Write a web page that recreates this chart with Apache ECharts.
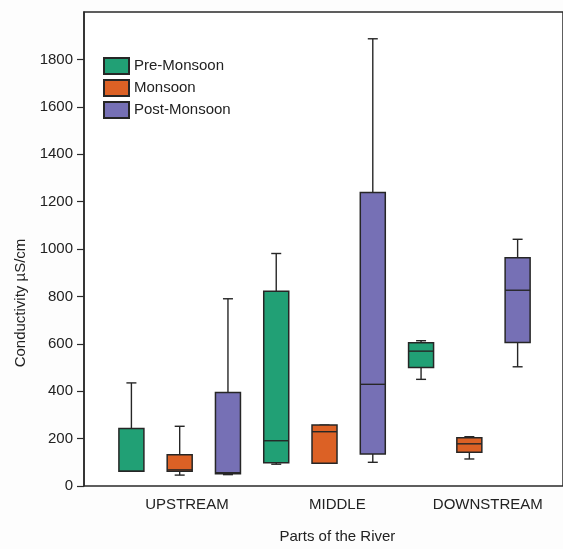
<!DOCTYPE html>
<html>
<head>
<meta charset="utf-8">
<title>Conductivity</title>
<script src="https://cdn.jsdelivr.net/npm/echarts@6/dist/echarts.min.js"></script>
<style>
  html, body { margin: 0; padding: 0; background: #fdfdfd; }
  #chart { width: 563px; height: 549px; }
</style>
</head>
<body>
<div id="chart"></div>
<script>
// parts of the river (x axis labels)
const parts = ['UPSTREAM', 'MIDDLE', 'DOWNSTREAM'];
const seasons = ['Pre-Monsoon', 'Monsoon', 'Post-Monsoon'];
const seasonColors = ['#21a075', '#dc6125', '#7670b5'];

// [min, Q1, median, Q3, max] for each part of the river
const preMonsoon = [
  [62, 62, 62, 243, 435],
  [92, 98, 191, 822, 981],
  [450, 500, 569, 604, 613]
];
const monsoon = [
  [46, 62, 68, 132, 252],
  [96, 96, 229, 257, 257],
  [114, 142, 178, 204, 208]
];
const postMonsoon = [
  [48, 52, 56, 395, 790],
  [100, 135, 429, 1238, 1887],
  [503, 606, 826, 963, 1041]
];
const yTicks = [0, 200, 400, 600, 800, 1000, 1200, 1400, 1600, 1800];

const allSeasons = [preMonsoon, monsoon, postMonsoon];

// boxes are evenly spaced, one slot per part/season pair
function slotData(seasonIdx) {
  return allSeasons[seasonIdx].map(function (v, partIdx) {
    return [partIdx * 3 + seasonIdx].concat(v);
  });
}

const lineColor = '#262626';

function renderBox(params, api) {
  var x = api.value(0);
  var pMin = api.coord([x, api.value(1)]);
  var pQ1 = api.coord([x, api.value(2)]);
  var pMed = api.coord([x, api.value(3)]);
  var pQ3 = api.coord([x, api.value(4)]);
  var pMax = api.coord([x, api.value(5)]);
  var cx = pMin[0];
  var half = 12.5;
  var cap = 5;
  var ls = { stroke: lineColor, lineWidth: 1.4 };
  return {
    type: 'group',
    children: [
      { type: 'line', shape: { x1: cx, y1: pQ3[1], x2: cx, y2: pMax[1] }, style: ls },
      { type: 'line', shape: { x1: cx - cap, y1: pMax[1], x2: cx + cap, y2: pMax[1] }, style: ls },
      { type: 'line', shape: { x1: cx, y1: pQ1[1], x2: cx, y2: pMin[1] }, style: ls },
      { type: 'line', shape: { x1: cx - cap, y1: pMin[1], x2: cx + cap, y2: pMin[1] }, style: ls },
      {
        type: 'rect',
        shape: { x: cx - half, y: pQ3[1], width: half * 2, height: pQ1[1] - pQ3[1] },
        style: { fill: api.visual('color'), stroke: lineColor, lineWidth: 1.5 }
      },
      { type: 'line', shape: { x1: cx - half, y1: pMed[1], x2: cx + half, y2: pMed[1] }, style: ls }
    ]
  };
}

var chart = echarts.init(document.getElementById('chart'));

var series = seasons.map(function (name, i) {
  return {
    name: name,
    type: 'custom',
    xAxisIndex: 0,
    yAxisIndex: 0,
    itemStyle: { color: seasonColors[i], borderColor: lineColor, borderWidth: 1.5 },
    encode: { x: 0, y: [1, 2, 3, 4, 5] },
    renderItem: renderBox,
    data: slotData(i)
  };
});

var option = {
  backgroundColor: '#fdfdfd',
  animation: false,
  textStyle: { fontFamily: 'Liberation Sans, Arial, sans-serif' },
  legend: {
    orient: 'vertical',
    left: 103,
    top: 57,
    padding: 0,
    itemWidth: 25,
    itemHeight: 16,
    itemGap: 4,
    icon: 'rect',
    data: seasons,
    textStyle: { fontSize: 15, lineHeight: 18, color: '#222' }
  },
  grid: [
    { left: 84, right: -2, top: 12, height: 474, show: true, backgroundColor: '#fff', borderColor: '#2a2a2a', borderWidth: 1.5 },
    { left: 111.75, right: 0, top: 12, height: 474 }
  ],
  xAxis: [
    { gridIndex: 0, type: 'value', min: -0.982, max: 8.94, show: false },
    {
      gridIndex: 1,
      type: 'category',
      data: parts,
      axisLine: { show: false },
      axisTick: { show: false },
      axisLabel: { fontSize: 15, color: '#222', margin: 11 },
      name: 'Parts of the River',
      nameLocation: 'middle',
      nameGap: 43,
      nameTextStyle: { fontSize: 15, color: '#222' }
    }
  ],
  yAxis: [
    {
      gridIndex: 0,
      type: 'value',
      min: 0,
      max: 2000,
      interval: 200,
      splitLine: { show: false },
      axisLine: { show: true, onZero: false, lineStyle: { color: '#2a2a2a', width: 1.5 } },
      axisTick: { show: true, length: 7, customValues: yTicks, lineStyle: { color: '#2a2a2a', width: 1.2 } },
      axisLabel: {
        fontSize: 15, color: '#222', margin: 11, customValues: yTicks,
        formatter: function (v) { return String(v); }
      },
      name: 'Conductivity \u00b5S/cm',
      nameLocation: 'middle',
      nameGap: 40,
      nameTextStyle: { fontSize: 15, color: '#222', padding: [0, 108, 0, 0] }
    },
    { gridIndex: 1, type: 'value', min: 0, max: 2000, show: false }
  ],
  series: series
};
chart.setOption(option);
</script>
</body>
</html>
